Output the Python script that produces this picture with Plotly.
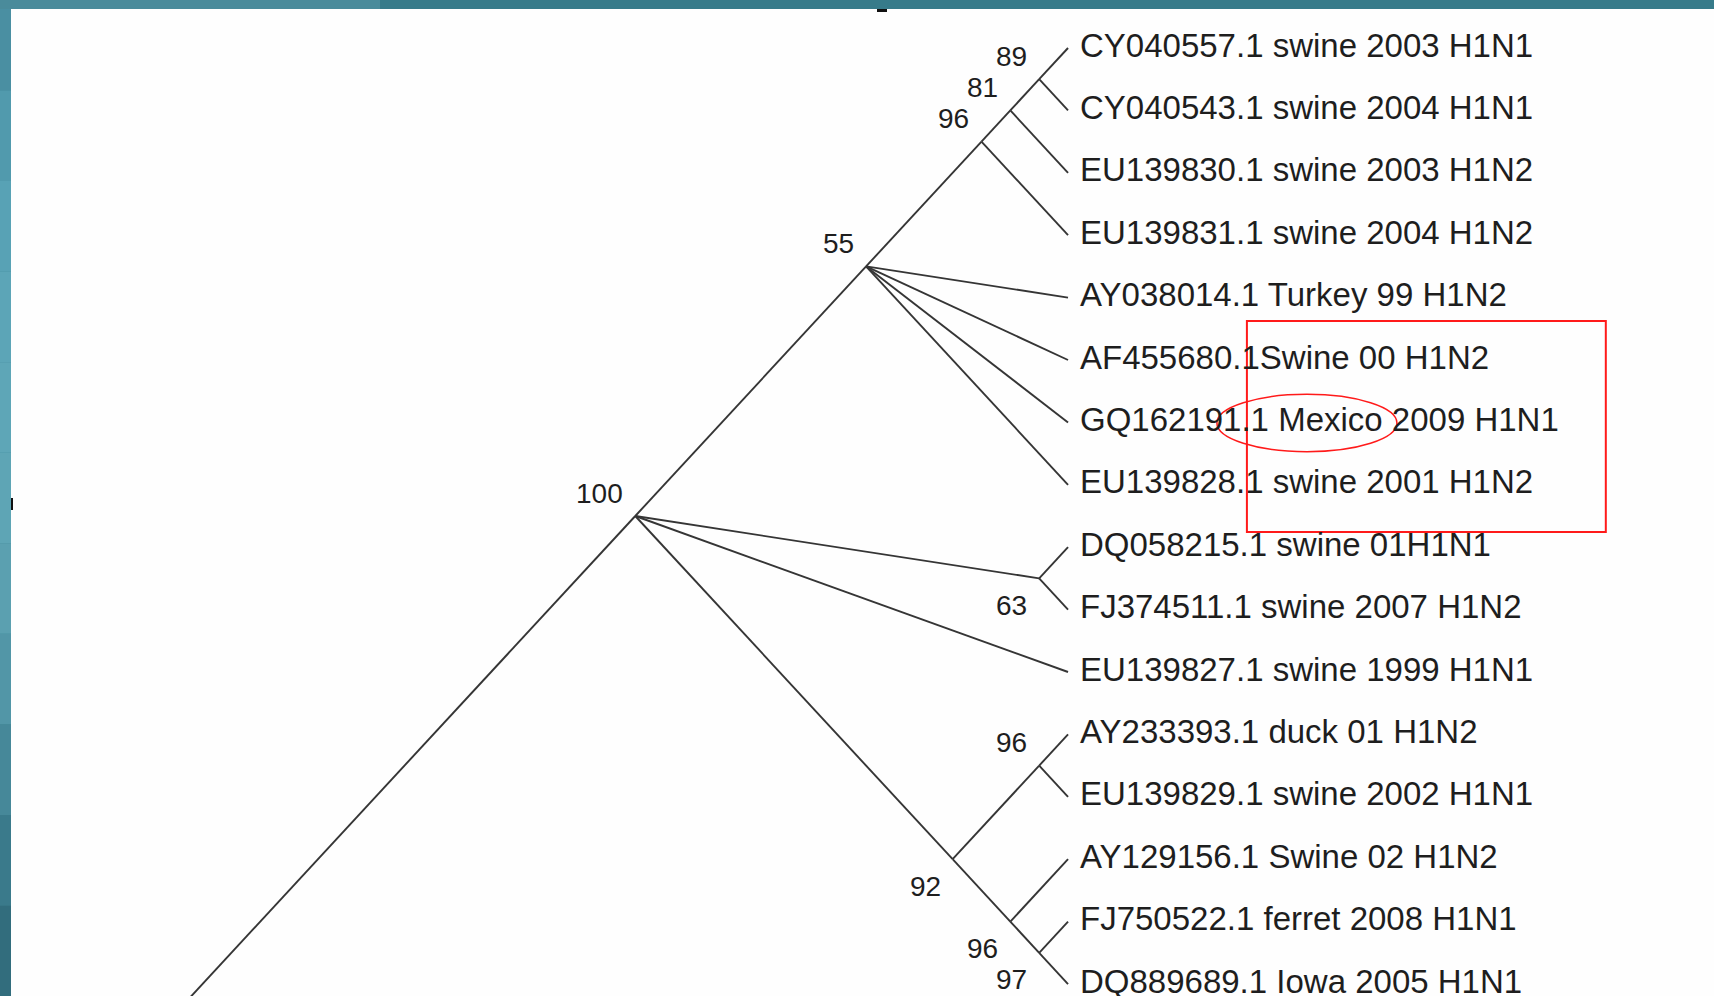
import plotly.graph_objects as go

# ---------------- data ----------------
taxa = [
    "CY040557.1 swine 2003 H1N1",
    "CY040543.1 swine 2004 H1N1",
    "EU139830.1 swine 2003 H1N2",
    "EU139831.1 swine 2004 H1N2",
    "AY038014.1 Turkey 99 H1N2",
    "AF455680.1Swine 00 H1N2",
    "GQ162191.1 Mexico 2009 H1N1",
    "EU139828.1 swine 2001 H1N2",
    "DQ058215.1 swine 01H1N1",
    "FJ374511.1 swine 2007 H1N2",
    "EU139827.1 swine 1999 H1N1",
    "AY233393.1 duck 01 H1N2",
    "EU139829.1 swine 2002 H1N1",
    "AY129156.1 Swine 02 H1N2",
    "FJ750522.1 ferret 2008 H1N1",
    "DQ889689.1 Iowa 2005 H1N1",
]

# clade -> children (int = taxon index, str = clade name)
clade_children = {
    "n89": [0, 1],
    "n81": ["n89", 2],
    "n96a": ["n81", 3],
    "n55": ["n96a", 4, 5, 6, 7],
    "n63": [8, 9],
    "n96b": [11, 12],
    "n97": [14, 15],
    "n96c": [13, "n97"],
    "n92": ["n96b", "n96c"],
    "n100": ["n55", "n63", 10, "n92"],
}
clade_support = {
    "n89": 89, "n81": 81, "n96a": 96, "n55": 55, "n63": 63,
    "n96b": 96, "n97": 97, "n96c": 96, "n92": 92, "n100": 100,
}
root_clade = "n100"
root_stem = 10.0          # length of the root branch (row units)

highlight_rows = (5, 7)   # red box
circled_row = 6           # red ellipse

# ---------------- slanted cladogram layout ----------------
pos = {}


def layout(node):
    if isinstance(node, int):
        pos[node] = (0.0, float(node), node, node)
        return pos[node]
    tops, bots = [], []
    for ch in clade_children[node]:
        _, _, t, b = layout(ch)
        tops.append(t)
        bots.append(b)
    yt, yb = min(tops), max(bots)
    pos[node] = (-(yb - yt) / 2.0, (yt + yb) / 2.0, yt, yb)
    return pos[node]


layout(root_clade)

xs, ys = [], []
for clade, kids in clade_children.items():
    px, py = pos[clade][0], pos[clade][1]
    for ch in kids:
        cx, cy = pos[ch][0], pos[ch][1]
        xs += [px, cx, None]
        ys += [py, cy, None]
rx, ry = pos[root_clade][0], pos[root_clade][1]
xs += [rx, rx - root_stem, None]
ys += [ry, ry + root_stem, None]

parent_of = {}
for clade, kids in clade_children.items():
    for ch in kids:
        parent_of[ch] = clade

fig = go.Figure()
fig.add_trace(go.Scatter(
    x=xs, y=ys, mode="lines",
    line=dict(color="#353535", width=1.9),
    hoverinfo="skip", showlegend=False,
))

FONT = "Liberation Sans, Arial, sans-serif"
annotations = []
for i, name in enumerate(taxa):
    annotations.append(dict(
        x=0, y=i, xref="x", yref="y", text=name, showarrow=False,
        xanchor="left", yanchor="middle", xshift=10, yshift=3,
        font=dict(family=FONT, size=33, color="#1e1e1e"),
    ))

for clade, sup in clade_support.items():
    x, y = pos[clade][0], pos[clade][1]
    if clade in parent_of:
        parent_y = pos[parent_of[clade]][1]
    else:
        parent_y = y + root_stem
    above = parent_y > y
    annotations.append(dict(
        x=x, y=y, xref="x", yref="y", text=str(sup), showarrow=False,
        xanchor="right", yanchor="middle", xshift=-10,
        yshift=23 if above else -27,
        font=dict(family=FONT, size=28, color="#1e1e1e"),
    ))

# ---------------- frame / highlight shapes ----------------
W, H = 1714, 996
ML, MT = 11, 9
PW, PH = W - ML, H - MT


def px_to_paper(x0, y0, x1, y1):
    return dict(x0=(x0 - ML) / PW, x1=(x1 - ML) / PW,
                y0=1 - (y0 - MT) / PH, y1=1 - (y1 - MT) / PH)


shapes = []
# teal frame: top band
shapes.append(dict(type="rect", xref="paper", yref="paper", line_width=0,
                   fillcolor="#377b8a", layer="below", **px_to_paper(0, 0, W, MT)))
shapes.append(dict(type="rect", xref="paper", yref="paper", line_width=0,
                   fillcolor="#4a8b9b", layer="below", **px_to_paper(0, 0, 380, MT)))
# left band gradient
left_cols = ["#4a8fa2", "#519aad", "#58a2b5", "#5ca5b7", "#5ea6b7", "#5ea5b5",
             "#5ba0b0", "#5296a7", "#468899", "#3a7a8b", "#326d7d"]
n = len(left_cols)
for k, c in enumerate(left_cols):
    shapes.append(dict(type="rect", xref="paper", yref="paper", line_width=0,
                       fillcolor=c, layer="below",
                       **px_to_paper(0, max(MT, H * k / n), ML, H * (k + 1) / n)))
# small black marks on the frame edge
shapes.append(dict(type="rect", xref="paper", yref="paper", line_width=0,
                   fillcolor="#111111", **px_to_paper(877, 9, 887, 12)))
shapes.append(dict(type="rect", xref="paper", yref="paper", line_width=0,
                   fillcolor="#111111", **px_to_paper(11, 498, 13, 510)))

# red box and ellipse
r0, r1 = highlight_rows
shapes.append(dict(type="rect", xref="x", yref="y",
                   x0=3.10, x1=9.32, y0=r0 - 0.625, y1=r1 + 0.755,
                   line=dict(color="#ff1a1a", width=2), fillcolor="rgba(0,0,0,0)"))
shapes.append(dict(type="circle", xref="x", yref="y",
                   x0=2.58, x1=5.70, y0=circled_row - 0.45, y1=circled_row + 0.47,
                   line=dict(color="#ff1a1a", width=1.5), fillcolor="rgba(0,0,0,0)"))

fig.update_layout(
    width=W, height=H,
    margin=dict(l=ML, r=0, t=MT, b=0, pad=0),
    paper_bgcolor="#3f8696",
    plot_bgcolor="#fefefe",
    xaxis=dict(range=[-18.319, 11.195], visible=False, fixedrange=True),
    yaxis=dict(range=[15.192, -0.625], visible=False, fixedrange=True),
    annotations=annotations,
    shapes=shapes,
    showlegend=False,
)

fig.write_html(
    "out.html",
    config={"displayModeBar": False},
    post_script="document.body.style.margin='0';document.body.style.overflow='hidden';",
)
